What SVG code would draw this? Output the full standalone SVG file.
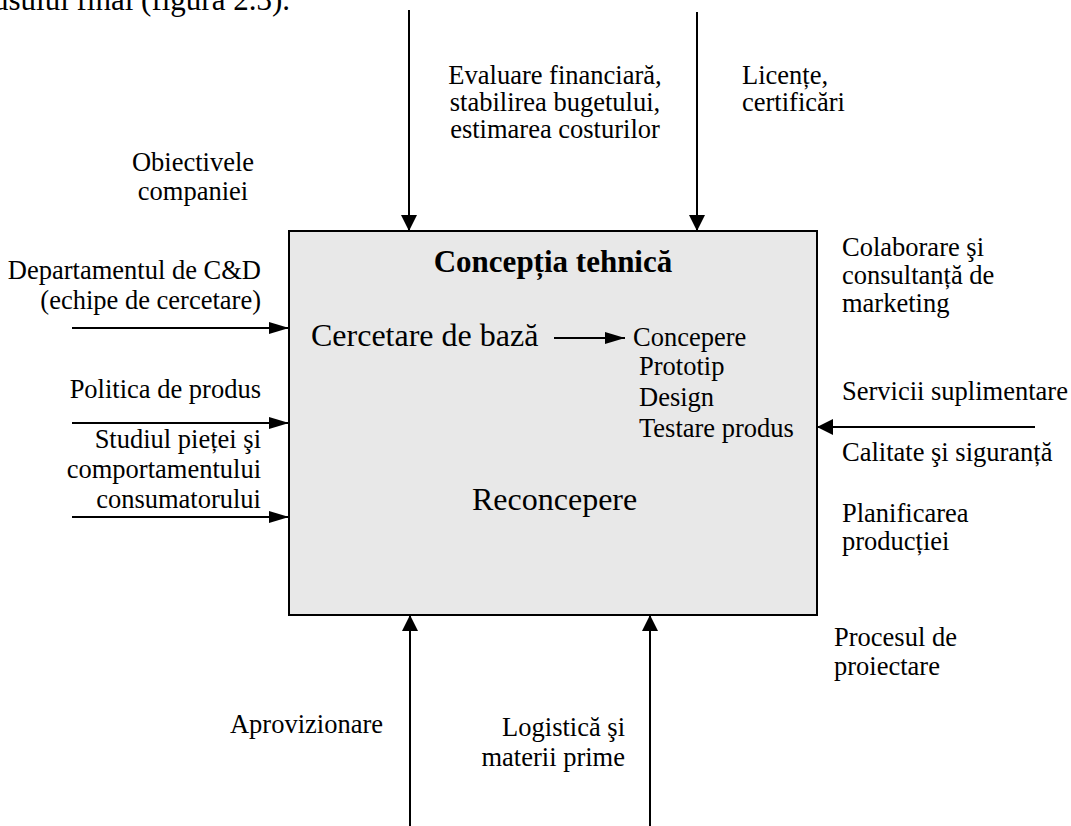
<svg xmlns="http://www.w3.org/2000/svg" width="1071" height="826" viewBox="0 0 1071 826">
<defs>
<marker id="ah" viewBox="0 0 16 16" refX="16" refY="8" markerWidth="16" markerHeight="16" markerUnits="userSpaceOnUse" orient="auto">
<path d="M0,0 L16,8 L0,16 Z" fill="#000"/>
</marker>
<marker id="ahs" viewBox="0 0 20 12" refX="20" refY="6" markerWidth="20" markerHeight="12" markerUnits="userSpaceOnUse" orient="auto">
<path d="M0,0 L20,6 L0,12 Z" fill="#000"/>
</marker>
</defs>
<style>
text{font-family:"Liberation Serif","Times New Roman",serif;fill:#000;font-size:26.5px}
.big{font-size:32px}
.title{font-size:31px;font-weight:bold}
.e{text-anchor:end}
.m{text-anchor:middle}
.ln{stroke:#000;stroke-width:2;fill:none}
</style>
<rect width="1071" height="826" fill="#fff"/>
<text x="290" y="10" class="e" style="font-size:31px">usului final (figura 2.3).</text>
<g id="box">
<rect x="289" y="231" width="528" height="384" fill="#e8e8e8" stroke="#000" stroke-width="2"/>
<text x="553" y="272" class="title m">Concepția tehnică</text>
<text x="311" y="346" class="big">Cercetare de bază</text>
<text x="633" y="346">Concepere</text>
<text x="639" y="375">Prototip</text>
<text x="639" y="406">Design</text>
<text x="639" y="437">Testare produs</text>
<text x="472" y="510" class="big">Reconcepere</text>
</g>
<g id="connectors">
<line class="ln" x1="409" y1="10" x2="409" y2="231" marker-end="url(#ah)"/>
<line class="ln" x1="697" y1="12" x2="697" y2="231" marker-end="url(#ah)"/>
<line class="ln" x1="410" y1="826" x2="410" y2="615" marker-end="url(#ah)"/>
<line class="ln" x1="650" y1="826" x2="650" y2="615" marker-end="url(#ah)"/>
<line class="ln" x1="72" y1="328" x2="289" y2="328" marker-end="url(#ahs)"/>
<line class="ln" x1="72" y1="423" x2="289" y2="423" marker-end="url(#ahs)"/>
<line class="ln" x1="72" y1="517" x2="289" y2="517" marker-end="url(#ahs)"/>
<line class="ln" x1="1035" y1="427" x2="817" y2="427" marker-end="url(#ah)"/>
<line class="ln" x1="554" y1="338" x2="625" y2="338" marker-end="url(#ahs)"/>
</g>
<g id="lbl-obiective"><text x="193" y="171" class="m">Obiectivele</text><text x="193" y="200" class="m">companiei</text></g>
<g id="lbl-evaluare"><text x="555" y="84" class="m">Evaluare financiară,</text><text x="555" y="111" class="m">stabilirea bugetului,</text><text x="555" y="138" class="m">estimarea costurilor</text></g>
<g id="lbl-licente"><text x="742" y="84">Licențe,</text><text x="742" y="111">certificări</text></g>
<g id="lbl-cd"><text x="261" y="279" class="e">Departamentul de C&amp;D</text><text x="261" y="309" class="e">(echipe de cercetare)</text></g>
<g id="lbl-politica"><text x="261" y="398" class="e">Politica de produs</text></g>
<g id="lbl-studiu"><text x="261" y="448" class="e">Studiul pieței şi</text><text x="261" y="478" class="e">comportamentului</text><text x="261" y="508" class="e">consumatorului</text></g>
<g id="lbl-colaborare"><text x="842" y="256">Colaborare şi</text><text x="842" y="284">consultanță de</text><text x="842" y="312">marketing</text></g>
<g id="lbl-servicii"><text x="842" y="400">Servicii suplimentare</text></g>
<g id="lbl-calitate"><text x="842" y="461">Calitate şi siguranță</text></g>
<g id="lbl-planificare"><text x="842" y="522">Planificarea</text><text x="842" y="550">producției</text></g>
<g id="lbl-proces"><text x="834" y="646">Procesul de</text><text x="834" y="675">proiectare</text></g>
<g id="lbl-aprov"><text x="383" y="733" class="e">Aprovizionare</text></g>
<g id="lbl-logistica"><text x="625" y="736" class="e">Logistică şi</text><text x="625" y="766" class="e">materii prime</text></g>
</svg>
